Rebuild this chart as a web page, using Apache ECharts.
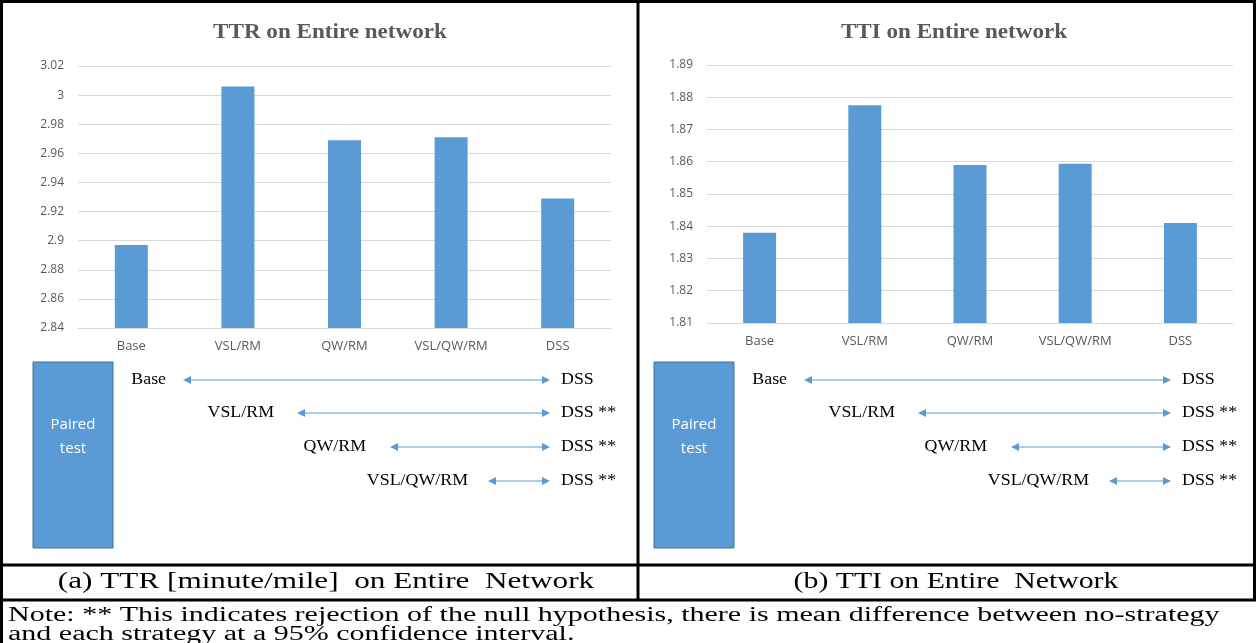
<!DOCTYPE html>
<html><head><meta charset="utf-8">
<script src="https://cdn.jsdelivr.net/npm/echarts@6/dist/echarts.min.js"></script>
<style>html,body{margin:0;padding:0;background:#fff}#c{width:1257px;height:643px}</style>
</head><body><div id="c"></div>
<script>
// ---- data ----
const categories = ['Base', 'VSL/RM', 'QW/RM', 'VSL/QW/RM', 'DSS'];
const ttrValues = [2.897, 3.006, 2.969, 2.971, 2.929];
const ttiValues = [1.838, 1.8775, 1.859, 1.8594, 1.841];
const ttrAxis = [2.84, 3.02, 0.02];   // min, max, interval
const ttiAxis = [1.81, 1.89, 0.01];
const titles = ['TTR on Entire network', 'TTI on Entire network'];
const captions = ['(a) TTR [minute/mile]  on Entire  Network', '(b) TTI on Entire  Network'];
const pairLeft = ['Base', 'VSL/RM', 'QW/RM', 'VSL/QW/RM'];
const pairRight = ['DSS', 'DSS **', 'DSS **', 'DSS **'];
const boxText = 'Paired\ntest';
const noteLines = [
  'Note: ** This indicates rejection of the null hypothesis, there is mean difference between no-strategy',
  'and each strategy at a 95% confidence interval.'
];

// ---- layout ----
const BAR = '#5B9BD5';
const GRAY = '#595959';
const serif = '"Liberation Serif","Times New Roman",serif';
const sans = '"Open Sans","Noto Sans",sans-serif';
const chart = echarts.init(document.getElementById('c'));

const panels = [
  {x0: 0, grid: {left: 78, top: 66, width: 533, height: 262}, titleX: 330, axis: ttrAxis, values: ttrValues, capX: 326, capScale: 1.3},
  {x0: 621, grid: {left: 707, top: 65, width: 526, height: 258}, titleX: 954, axis: ttiAxis, values: ttiValues, capX: 956, capScale: 1.24}
];
const rowLayout = [
  {labelRight: 166, start: 183, y: 380},
  {labelRight: 274, start: 297, y: 413},
  {labelRight: 366, start: 390, y: 447},
  {labelRight: 468, start: 488, y: 481}
];
const arrowEnd = 550, dssX = 561;

const graphics = [];
function arrow(x1, x2, y) {
  const c = '#5B9BD5';
  graphics.push({type: 'line', shape: {x1: x1 + 6, y1: y, x2: x2 - 6, y2: y}, style: {stroke: c, lineWidth: 1}});
  graphics.push({type: 'polygon', shape: {points: [[x1, y], [x1 + 8, y - 4], [x1 + 8, y + 4]]}, style: {fill: c}});
  graphics.push({type: 'polygon', shape: {points: [[x2, y], [x2 - 8, y - 4], [x2 - 8, y + 4]]}, style: {fill: c}});
}
panels.forEach((p, i) => {
  const o = p.x0;
  graphics.push({type: 'text', x: p.titleX, y: 33, scaleX: 1.1, style: {text: titles[i], fill: GRAY,
    font: 'bold 21px ' + serif, textAlign: 'center', textVerticalAlign: 'middle'}});
  graphics.push({type: 'rect', shape: {x: 33 + o, y: 362, width: 80, height: 186},
    style: {fill: BAR, stroke: '#41719C', lineWidth: 1}});
  graphics.push({type: 'text', x: 73 + o, y: 437, style: {text: boxText, fill: '#fff', font: '15px ' + sans,
    textAlign: 'center', textVerticalAlign: 'middle', lineHeight: 24}});
  pairLeft.forEach((t, k) => {
    const r = rowLayout[k];
    graphics.push({type: 'text', x: r.labelRight + o, y: r.y, scaleX: 1.05, style: {text: t, fill: '#000', font: '17px ' + serif,
      textAlign: 'right', textVerticalAlign: 'middle'}});
    arrow(r.start + o, arrowEnd + o, r.y);
    graphics.push({type: 'text', x: dssX + o, y: r.y, scaleX: 1.05, style: {text: pairRight[k], fill: '#000', font: '17px ' + serif,
      textAlign: 'left', textVerticalAlign: 'middle'}});
  });
  graphics.push({type: 'text', x: p.capX, y: 582, scaleX: p.capScale, style: {text: captions[i], fill: '#000', font: '24px ' + serif,
    textAlign: 'center', textVerticalAlign: 'middle'}});
});
noteLines.forEach((t, k) => {
  graphics.push({type: 'text', x: 8, y: 616 + k * 19, scaleX: 1.5, style: {text: t, fill: '#000', font: '20px ' + serif,
    textAlign: 'left', textVerticalAlign: 'middle'}});
});
// table borders
const K = '#000';
[[1, 1.5, 1256, 1.5], [1, 565, 1256, 565], [1, 600, 1256, 600], [638, 0, 638, 600], [1.5, 0, 1.5, 643], [1254.5, 0, 1254.5, 600]]
  .forEach(l => graphics.push({type: 'line', shape: {x1: l[0], y1: l[1], x2: l[2], y2: l[3]}, style: {stroke: K, lineWidth: 3}}));

chart.setOption({
  animation: false,
  backgroundColor: '#fff',
  grid: panels.map(p => p.grid),
  xAxis: panels.map((p, i) => ({type: 'category', gridIndex: i, data: categories,
    axisLine: {lineStyle: {color: '#D9D9D9'}}, axisTick: {show: false},
    axisLabel: {color: GRAY, fontFamily: sans, fontSize: 13, margin: 12}})),
  yAxis: panels.map((p, i) => ({type: 'value', gridIndex: i, min: p.axis[0], max: p.axis[1], interval: p.axis[2],
    axisLine: {show: false}, axisTick: {show: false},
    splitLine: {lineStyle: {color: '#D9D9D9'}},
    axisLabel: {color: GRAY, fontFamily: sans, fontSize: 12, margin: 14}})),
  series: panels.map((p, i) => ({type: 'bar', xAxisIndex: i, yAxisIndex: i, data: p.values,
    barWidth: 33, itemStyle: {color: BAR}})),
  graphic: graphics
});
</script></body></html>
